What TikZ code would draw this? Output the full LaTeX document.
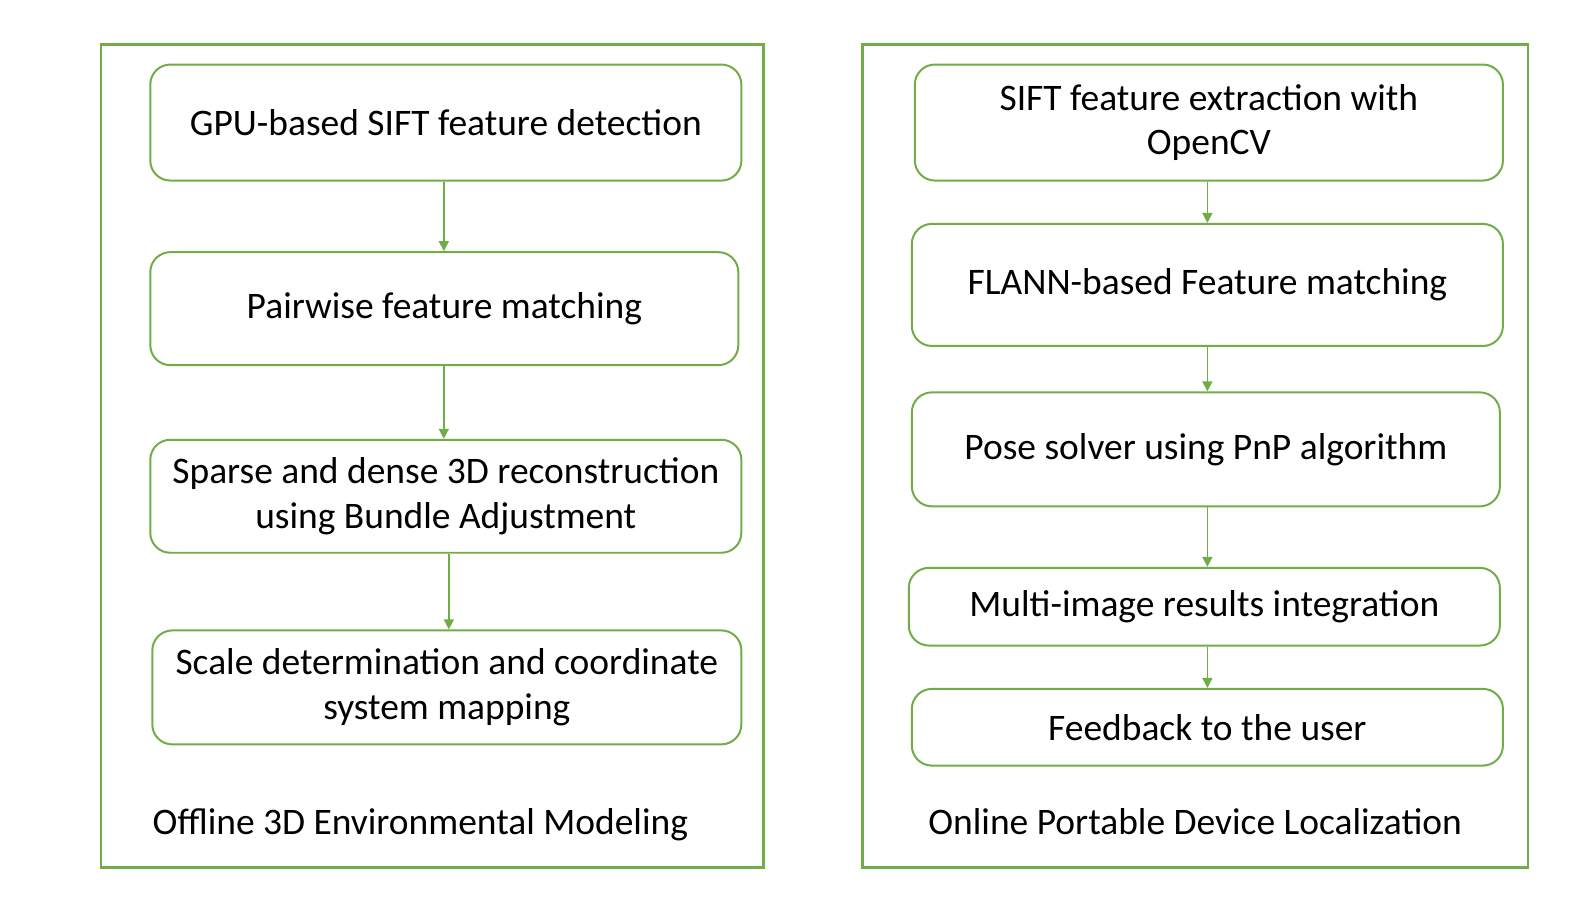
\documentclass[tikz,border=0pt]{standalone}
\usepackage{fontspec}
\setmainfont{Carlito}
\usetikzlibrary{arrows.meta}
\definecolor{boxgreen}{RGB}{112,173,71}
\def\px{0.50435bp}
\tikzset{
  box/.style n args={2}{draw=boxgreen, line width=1pt, rounded corners=10bp, align=center, inner sep=0pt,
    minimum width=#1*\px, minimum height=#2*\px, font=\fontsize{18.8}{22.3}\selectfont},
  label/.style={font=\fontsize{18.8}{22.3}\selectfont, anchor=base west, inner sep=0pt},
  frame/.style={draw=boxgreen, line width=1.2pt},
  flow/.style={draw=boxgreen, line width=0.8pt, -{Triangle[length=5pt,width=5pt]}},
}
\begin{document}
\begin{tikzpicture}[x=\px, y=-\px]
    \useasboundingbox (0,0) rectangle (1568.4,907.1); % keep the page size
    % outer frames
    \draw[frame] (100,44) rectangle (757,860);
    \draw[frame] (855,44) rectangle (1515,860);

    % offline side
    \node[box={586}{115}] (gpu) at (442,121.5) {GPU-based SIFT feature detection};
    \node[box={583}{112}] (pair) at (440.5,306) {Pairwise feature matching};
    \node[box={586}{112}] (sparse) at (442,492) {Sparse and dense 3D reconstruction\\using Bundle Adjustment};
    \node[box={584}{113}] (scale) at (443,681.5) {Scale determination and coordinate\\system mapping};
    \node[label] (offline) at (151,827) {Offline 3D Environmental Modeling};

    \draw[flow] (gpu.south -| 440,0) -- (pair.north -| 440,0);
    \draw[flow] (pair.south -| 440,0) -- (sparse.north -| 440,0);
    \draw[flow] (sparse.south -| 445,0) -- (scale.north -| 445,0);

    % online side
    \node[box={583}{115}] (sift) at (1198.5,121.5) {SIFT feature extraction with\\OpenCV};
    \node[box={586}{121}] (flann) at (1197,282.5) {FLANN-based Feature matching};
    \node[box={583}{113}] (pose) at (1195.5,445.5) {Pose solver using PnP algorithm};
    \node[box={586}{77}] (multi) at (1194,601.5) {Multi-image results integration};
    \node[box={586}{76}] (feed) at (1197,721) {Feedback to the user};
    \node[label] (online) at (920,827) {Online Portable Device Localization};

    \foreach \a/\b in {sift/flann, flann/pose, pose/multi, multi/feed} {
      \draw[flow] (\a.south -| 1197,0) -- (\b.north -| 1197,0);
    }
\end{tikzpicture}
\end{document}
